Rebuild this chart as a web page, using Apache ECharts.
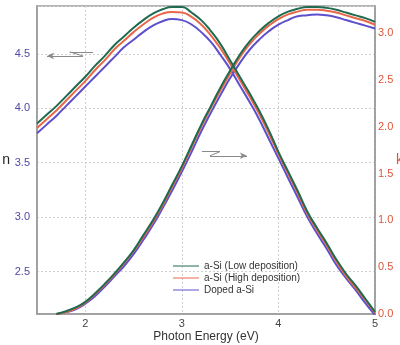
<!DOCTYPE html>
<html><head><meta charset="utf-8">
<script src="https://cdn.jsdelivr.net/npm/echarts@6/dist/echarts.min.js"></script>
<style>html,body{margin:0;padding:0;background:#fff}#c{width:400px;height:345px}</style>
</head><body><div id="c"></div>
<script>
var energies = [1.5,1.6,1.7,1.8,1.9,2.0,2.1,2.2,2.3,2.4,2.5,2.6,2.7,2.8,2.9,3.0,3.1,3.2,3.3,3.4,3.5,3.6,3.7,3.8,3.9,4.0,4.1,4.2,4.3,4.4,4.5,4.6,4.7,4.8,4.9,5.0];
var seriesNames = ['a-Si (Low deposition)','a-Si (High deposition)','Doped a-Si'];
var nLow   = [3.86,3.94,4.02,4.11,4.20,4.29,4.39,4.48,4.58,4.66,4.74,4.81,4.87,4.91,4.93,4.93,4.88,4.81,4.71,4.59,4.44,4.29,4.14,3.98,3.80,3.60,3.42,3.24,3.05,2.90,2.76,2.61,2.48,2.37,2.25,2.13];
var nHigh  = [3.82,3.90,3.98,4.07,4.16,4.25,4.35,4.44,4.54,4.62,4.70,4.77,4.83,4.87,4.885,4.88,4.84,4.77,4.67,4.55,4.41,4.26,4.11,3.95,3.77,3.58,3.40,3.22,3.03,2.88,2.74,2.59,2.46,2.35,2.24,2.12];
var nDoped = [3.77,3.85,3.93,4.02,4.11,4.20,4.29,4.38,4.47,4.56,4.63,4.70,4.76,4.80,4.82,4.81,4.77,4.70,4.61,4.49,4.36,4.21,4.06,3.90,3.72,3.54,3.36,3.18,3.00,2.85,2.71,2.56,2.44,2.33,2.21,2.10];
var kLow   = [null,null,0.00,0.03,0.07,0.13,0.22,0.32,0.43,0.55,0.68,0.84,1.00,1.18,1.38,1.58,1.80,2.02,2.22,2.42,2.60,2.77,2.91,3.02,3.11,3.18,3.23,3.26,3.28,3.28,3.27,3.25,3.22,3.19,3.16,3.12];
var kHigh  = [null,null,0.00,0.02,0.06,0.12,0.21,0.31,0.42,0.54,0.67,0.82,0.98,1.16,1.36,1.56,1.78,2.00,2.20,2.39,2.57,2.74,2.88,2.99,3.08,3.15,3.20,3.23,3.25,3.25,3.24,3.22,3.19,3.16,3.13,3.09];
var kDoped = [null,null,0.00,0.02,0.05,0.11,0.19,0.29,0.40,0.51,0.64,0.79,0.95,1.13,1.32,1.52,1.73,1.95,2.15,2.34,2.52,2.68,2.82,2.93,3.02,3.09,3.14,3.18,3.19,3.20,3.19,3.17,3.14,3.11,3.08,3.05];
var xTickLabels = ['2','3','4','5'];
var nTickLabels = ['2.5','3.0','3.5','4.0','4.5'];
var kTickLabels = ['0.0','0.5','1.0','1.5','2.0','2.5','3.0'];
var colors = ['#1f6b4f','#e8674a','#5d50cc'];

function pairs(vals){ return energies.map(function(e,i){ return [e, vals[i]]; }).filter(function(p){return p[1]!==null;}); }

var grayLine = {color:'#8a8a8a', width:1, type:'solid'};
function seg(a,b,arrow){
  return [{coord:a, symbol:'none'}, {coord:b, symbol: arrow ? 'arrow' : 'none', symbolSize:[5,7]}];
}

var nData = [nLow,nHigh,nDoped], kData = [kLow,kHigh,kDoped];
var series = [];
[2,1,0].forEach(function(i){
  series.push({name:seriesNames[i], type:'line', xAxisIndex:0, yAxisIndex:0, data:pairs(nData[i]),
    smooth:true, showSymbol:false, symbol:'none', lineStyle:{width:2, color:colors[i]}, itemStyle:{color:colors[i]}, z:3+(2-i)});
  series.push({name:seriesNames[i], type:'line', xAxisIndex:0, yAxisIndex:1, data:pairs(kData[i]),
    smooth:true, showSymbol:false, symbol:'none', lineStyle:{width:2, color:colors[i]}, itemStyle:{color:colors[i]}, z:3+(2-i)});
});
series[0].markLine = {
  silent:true, animation:false, label:{show:false}, lineStyle:grayLine, symbol:['none','none'],
  data:[
    seg([1.84,4.518],[2.08,4.518],false),
    seg([1.84,4.518],[1.976,4.481],false),
    seg([1.976,4.481],[1.604,4.481],true),
    seg([3.208,3.601],[3.394,3.601],false),
    seg([3.394,3.601],[3.291,3.564],false),
    seg([3.291,3.564],[3.674,3.564],true)
  ]
};

var chart = echarts.init(document.getElementById('c'), null, {renderer:'canvas'});
chart.setOption({
  animation:false,
  backgroundColor:'#fff',
  grid:{left:37, right:25, top:6, bottom:31, outerBoundsMode:'none', containLabel:false, show:true, borderColor:'#9a9a9a', borderWidth:1.5, backgroundColor:'transparent'},
  legend:{
    data:seriesNames, orient:'vertical', left:168, top:256, itemWidth:26, itemHeight:8, itemGap:2,
    textStyle:{fontSize:10, color:'#333', fontFamily:'Liberation Sans'}, icon:'path://M0,4L26,4L26,5L0,5Z'
  },
  xAxis:{
    type:'value', min:1.5, max:5, splitNumber:4,
    name:'Photon Energy (eV)', nameLocation:'middle', nameGap:17, nameMoveOverlap:false,
    nameTextStyle:{fontSize:12, color:'#333', fontFamily:'Liberation Sans'},
    axisLine:{show:true, lineStyle:{color:'#9a9a9a', width:1.5}},
    axisTick:{show:false},
    axisLabel:{fontSize:11, color:'#444', margin:4, fontFamily:'Liberation Sans', showMinLabel:false,
      formatter:function(v){ var s=String(Math.round(v)); return (Math.abs(v-Math.round(v))<1e-6 && xTickLabels.indexOf(s)>=0)? s : ''; }},
    splitLine:{show:true, lineStyle:{color:'#d0d0d0', type:[2,2], width:1}}
  },
  yAxis:[{
    type:'value', min:2.11, max:4.94, splitNumber:5, position:'left',
    name:'n', nameLocation:'middle', nameGap:27, nameRotate:0, nameMoveOverlap:false,
    nameTextStyle:{fontSize:14, color:'#222', fontFamily:'Liberation Sans'},
    axisLine:{show:true, lineStyle:{color:'#9a9a9a', width:1.5}},
    axisTick:{show:false},
    axisLabel:{fontSize:11, color:'#5048a8', margin:7, fontFamily:'Liberation Sans', showMinLabel:false, showMaxLabel:false,
      formatter:function(v){ var s=v.toFixed(1); return nTickLabels.indexOf(s)>=0 && Math.abs(v*2-Math.round(v*2))<1e-6 ? s : ''; }},
    splitLine:{show:true, lineStyle:{color:'#d0d0d0', type:[2,2], width:1}}
  },{
    type:'value', min:0, max:3.29, interval:0.5, position:'right',
    name:'k', nameLocation:'middle', nameGap:21, nameRotate:0, nameMoveOverlap:false,
    nameTextStyle:{fontSize:14, color:'#e0553a', fontFamily:'Liberation Sans'},
    axisLine:{show:true, lineStyle:{color:'#9a9a9a', width:1.5}},
    axisTick:{show:false},
    axisLabel:{fontSize:11, color:'#e0553a', margin:3, fontFamily:'Liberation Sans', showMaxLabel:false,
      formatter:function(v){ var s=v.toFixed(1); return kTickLabels.indexOf(s)>=0 ? s : ''; }},
    splitLine:{show:false}
  }],
  series:series
});
</script></body></html>
